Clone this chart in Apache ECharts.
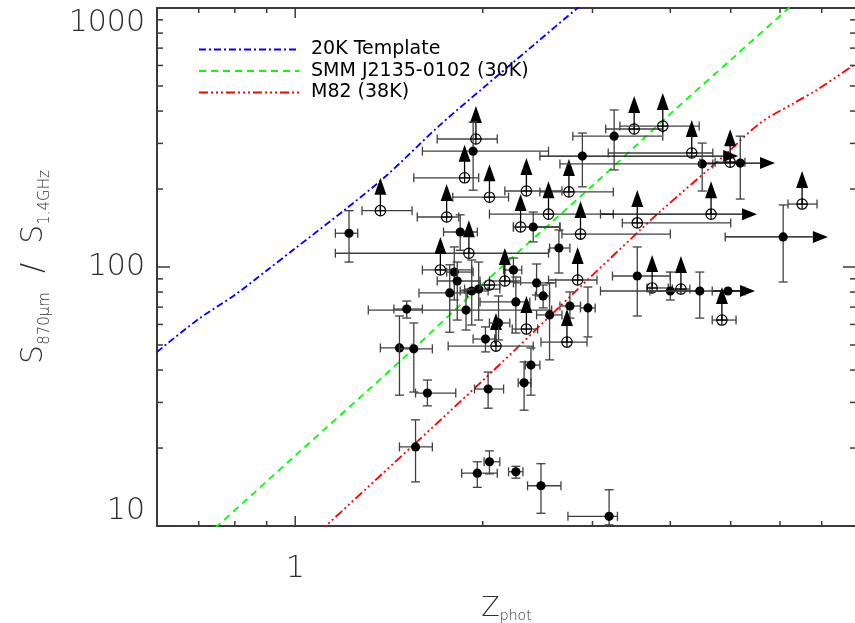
<!DOCTYPE html>
<html><head><meta charset="utf-8">
<script src="https://cdn.jsdelivr.net/npm/echarts@6.0.0/dist/echarts.min.js"></script>
<style>html,body{margin:0;padding:0;background:#fff;}#c{width:855px;height:623px;}</style>
</head><body><div id="c"></div>
<script>
// ---- template curves (z, S870/S1.4) ----
const tpl20kZ = [0.6, 0.7, 0.8, 0.9, 1.0, 1.2, 1.4, 1.7, 2.0, 2.4, 2.84, 3.0];
const tpl20kR = [47, 63, 78, 97, 118, 166, 225, 350, 490, 711, 1000, 1100];
const smmZ = [0.72, 0.75, 1.0, 1.5, 2.0, 3.0, 4.0, 5.0, 6.2, 6.5];
const smmR = [9.2, 10, 18.7, 45, 86, 206, 390, 630, 1000, 1100];
const m82Z = [1.08, 1.12, 2.03, 2.87, 3.58, 3.85, 4.93, 5.57, 6.3, 6.87, 7.86, 7.95];
const m82R = [9.2, 10, 37.7, 84, 139, 163.5, 275, 359, 428, 482, 600, 611];

// ---- sources ----
const zPhot = [1.37,1.22,1.95,1.93,1.87,2.05,1.75,1.84,1.90,1.71,1.80,1.82,1.77,1.92,1.97,1.88,1.51,1.47,1.55,1.63,1.56,2.02,2.10,2.12,2.24,2.17,2.44,2.50,2.26,2.35,2.56,2.76,2.95,2.73,2.39,2.65,2.84,3.54,3.74,4.16,4.00,4.46,4.95,4.84,3.25,2.89,2.35,2.75,2.55,2.30,2.41,2.87,3.54,3.50,3.89,4.33,4.50,4.99,5.18,4.65,6.51,6.07,2.04,2.33,1.96,2.05,2.26,2.48,3.19,2.05];
const ratio = [165,135,312,280,221,186,156,136.5,113,97.4,95.6,88.3,79.4,80.8,82.2,68.2,68.8,48.7,48.3,32.6,20.2,52.7,49.5,60.8,97.4,88.3,86.8,77.3,73.3,57.6,65.3,70.7,69.5,51.3,41.8,118.4,89.1,92.3,83,82.2,80.8,80.8,80.8,62.4,320,268,196.5,195,160,142.7,142.7,134,148,341,350,275.5,250,254,252,160,175,130.6,33.8,35.7,16.0,17.7,16.2,14.3,10.9,85.2];
const zLo = [1.28,1.16,1.69,1.60,1.55,1.79,1.57,1.73,1.16,1.60,1.75,1.69,1.58,1.84,1.87,1.31,1.44,1.37,1.47,1.56,1.47,1.93,1.76,2.05,2.16,2.05,2.24,2.43,1.98,2.23,2.44,2.66,2.87,2.48,2.34,2.56,2.55,3.23,3.67,4.03,3.09,3.71,4.67,4.67,2.79,2.47,2.17,2.47,2.05,2.24,2.24,2.68,3.35,3.15,3.32,3.18,2.66,4.72,4.46,3.09,6.18,4.90,1.94,2.28,1.85,2.01,2.20,2.36,2.74,1.98];
const zHi = [1.54,1.26,2.11,2.55,1.97,2.20,1.83,1.96,2.55,1.92,1.93,1.98,1.89,2.04,2.13,2.58,1.60,1.54,1.66,1.81,1.66,2.09,2.41,2.21,2.31,2.30,2.62,2.56,2.38,2.45,2.68,2.87,3.03,2.94,2.47,2.76,3.05,4.00,3.97,4.30,4.46,5.27,5.47,5.10,3.89,5.14,2.68,3.24,3.24,2.66,2.66,4.00,5.00,3.89,4.45,4.68,4.68,5.27,5.89,5.51,6.88,7.16,2.16,2.39,2.11,2.13,2.32,2.67,3.29,2.13];
const rLo = [null,104.5,null,198,null,null,null,116,null,null,74.6,62.4,56,59.7,62.4,57.1,63.5,32,32.9,29.1,14.8,47,null,52.3,87.5,null,78,69.5,55.6,null,43.8,63.5,53.7,null,32,94.8,null,64.7,null,null,74.6,63.5,null,null,237,204,null,null,null,null,125,null,null,null,null,null,196.5,null,183,null,null,87.5,28.5,28,14.1,15.9,15.3,11.2,10.1,null];
const rHi = [null,165,null,363,null,null,null,159,null,null,119.5,104.5,102,106.4,104.5,81.5,73.9,64.7,60.8,36.6,25.7,58.7,null,77.3,108.3,null,102.7,85.2,91.5,null,86.8,80.1,83.7,null,48.7,139,null,119.5,null,null,95.6,95.6,null,null,404,329,null,null,null,null,163,null,null,null,null,null,301,null,320,null,null,173.6,39.3,43,17.7,19.5,17.0,17.4,13.8,null];
// 'f' = filled circle, 'o' = open circle with cross
const kind = ['o','f','o','f','o','o','o','f','o','o','f','f','f','f','f','f','f','f','f','f','f','f','o','f','f','o','f','f','f','o','f','f','f','o','f','f','o','f','o','o','f','f','f','o','f','f','o','o','o','o','f','o','o','o','o','o','f','o','f','o','o','f','f','f','f','f','f','f','f','o'];
// limit arrows: '' none, 'up' lower limit on ratio, 'right' lower limit on z
const limit = ['up','','up','','up','up','up','','up','up','','','','','','','','','','','','','up','','','up','','','','up','','','','up','','','up','','up','up','','','right','up','','right','up','up','up','up','','up','up','up','up','up','','up','right','upright','up','right','','','','','','','',''];

// ---- axis ticks ----
const xMajorTicks = [1];
const xMinorTicks = [0.7, 0.8, 0.9, 2, 3, 4, 5, 6, 7];
const yMajorTicks = [10, 100, 1000];
const yMinorTicks = [20, 30, 40, 50, 60, 70, 80, 90, 200, 300, 400, 500, 600, 700, 800, 900];

const X_MIN = 0.6, X_MAX = 7.945, Y_MIN = 10, Y_MAX = 1000;
const FONT = 'DejaVu Sans';
const AX = '#3a3a3a';
const TXT = '#2e2e2e';

const tickData = [];
xMajorTicks.forEach(v => tickData.push([v, Y_MIN, 0, 1]));
xMinorTicks.forEach(v => tickData.push([v, Y_MIN, 0, 0]));
yMajorTicks.forEach(v => tickData.push([X_MIN, v, 1, 1]));
yMinorTicks.forEach(v => tickData.push([X_MIN, v, 1, 0]));

function renderTick(params, api) {
  const kindT = api.value(2), major = api.value(3);
  const st = {stroke: AX, lineWidth: 1.5};
  if (kindT === 0) {
    const v = api.value(0);
    const b = api.coord([v, Y_MIN]), t = api.coord([v, Y_MAX]);
    const L = major ? 10 : 5;
    return {type: 'group', children: [
      {type: 'line', shape: {x1: b[0], y1: b[1], x2: b[0], y2: b[1] - L}, style: st},
      {type: 'line', shape: {x1: t[0], y1: t[1], x2: t[0], y2: t[1] + L}, style: st}
    ]};
  } else {
    const v = api.value(1);
    const l = api.coord([X_MIN, v]), r = api.coord([X_MAX, v]);
    const L = major ? 13 : 6;
    return {type: 'group', children: [
      {type: 'line', shape: {x1: l[0], y1: l[1], x2: l[0] + L, y2: l[1]}, style: st},
      {type: 'line', shape: {x1: r[0], y1: r[1], x2: r[0] - L, y2: r[1]}, style: st}
    ]};
  }
}

function renderPoint(params, api) {
  const i = api.value(2);
  const c = api.coord([zPhot[i], ratio[i]]);
  const ch = [];
  const ec = '#404040';
  const cap = 4.5;
  const lim = limit[i];
  const est = {stroke: ec, lineWidth: 1.3};
  const pL = api.coord([zLo[i], ratio[i]]);
  const pR = api.coord([zHi[i], ratio[i]]);
  const right = lim.indexOf('right') >= 0;
  const xEnd = right ? pR[0] - 15 : pR[0];
  ch.push({type: 'line', shape: {x1: pL[0], y1: c[1], x2: xEnd, y2: c[1]}, style: right ? {stroke: '#000', lineWidth: 1.3} : est});
  ch.push({type: 'line', shape: {x1: pL[0], y1: c[1] - cap, x2: pL[0], y2: c[1] + cap}, style: est});
  if (right) {
    ch.push({type: 'polygon', shape: {points: [[pR[0], c[1]], [pR[0] - 15, c[1] - 6], [pR[0] - 15, c[1] + 6]]}, style: {fill: '#000'}});
  } else {
    ch.push({type: 'line', shape: {x1: pR[0], y1: c[1] - cap, x2: pR[0], y2: c[1] + cap}, style: est});
  }
  if (rLo[i] != null && rHi[i] != null) {
    const pB = api.coord([zPhot[i], rLo[i]]);
    const pT = api.coord([zPhot[i], rHi[i]]);
    ch.push({type: 'line', shape: {x1: c[0], y1: pB[1], x2: c[0], y2: pT[1]}, style: est});
    ch.push({type: 'line', shape: {x1: c[0] - cap, y1: pB[1], x2: c[0] + cap, y2: pB[1]}, style: est});
    ch.push({type: 'line', shape: {x1: c[0] - cap, y1: pT[1], x2: c[0] + cap, y2: pT[1]}, style: est});
  }
  if (lim.indexOf('up') >= 0) {
    ch.push({type: 'line', shape: {x1: c[0], y1: c[1], x2: c[0], y2: c[1] - 17}, style: {stroke: '#000', lineWidth: 1.3}});
    ch.push({type: 'polygon', shape: {points: [[c[0], c[1] - 33], [c[0] - 6, c[1] - 16], [c[0] + 6, c[1] - 16]]}, style: {fill: '#000'}});
  }
  if (kind[i] === 'f') {
    ch.push({type: 'circle', shape: {cx: c[0], cy: c[1], r: 4.6}, style: {fill: '#000'}});
  } else {
    const s = {stroke: '#000', lineWidth: 1.2, fill: null};
    ch.push({type: 'circle', shape: {cx: c[0], cy: c[1], r: 5.2}, style: {stroke: '#000', lineWidth: 1.2, fill: 'rgba(0,0,0,0)'}});
    ch.push({type: 'line', shape: {x1: c[0] - 5.2, y1: c[1], x2: c[0] + 5.2, y2: c[1]}, style: s});
    ch.push({type: 'line', shape: {x1: c[0], y1: c[1] - 5.2, x2: c[0], y2: c[1] + 5.2}, style: s});
  }
  return {type: 'group', children: ch};
}

const chart = echarts.init(document.getElementById('c'), null, {renderer: 'canvas'});
chart.setOption({
  animation: false,
  backgroundColor: '#fff',
  grid: {left: 157, top: 8, width: 699, height: 518, show: true, borderColor: AX, borderWidth: 2,
         backgroundColor: 'transparent', containLabel: false, outerBoundsMode: 'none'},
  legend: {
    left: 193, top: 35, orient: 'vertical', itemWidth: 100, itemHeight: 12, itemGap: 2.5,
    itemStyle: {opacity: 0},
    textStyle: {fontFamily: FONT, fontSize: 19, color: '#000', padding: [0, 0, 0, 7]},
    data: ['20K Template', 'SMM J2135-0102 (30K)', 'M82 (38K)']
  },
  xAxis: {
    type: 'log', logBase: 10, min: X_MIN, max: X_MAX,
    axisLine: {show: false}, axisTick: {show: false}, splitLine: {show: false},
    axisLabel: {margin: 28, fontFamily: FONT, fontSize: 30, fontWeight: 200, color: TXT,
      formatter: v => (Math.abs(v - 1) < 1e-6 ? '1' : '')},
    name: '{s|Z}{sub|phot}', nameLocation: 'middle', nameGap: 69,
    nameTextStyle: {rich: {
      s: {fontFamily: FONT, fontSize: 27, fontWeight: 200, color: TXT, padding: [0, 0, 1, 0]},
      sub: {fontFamily: FONT, fontSize: 14, fontWeight: 200, color: TXT, verticalAlign: 'bottom'}
    }}
  },
  yAxis: {
    type: 'log', logBase: 10, min: Y_MIN, max: Y_MAX,
    axisLine: {show: false}, axisTick: {show: false}, splitLine: {show: false},
    axisLabel: {margin: 12, fontFamily: FONT, fontSize: 30, fontWeight: 200, color: TXT,
      formatter: v => String(Math.round(v)),
      verticalAlignMinLabel: 'bottom', verticalAlignMaxLabel: 'top'},
    name: '{s|S}{sub|870μm}{s|  /  S}{sub|1.4GHz}', nameLocation: 'middle', nameGap: 104,
    nameTextStyle: {rich: {
      s: {fontFamily: FONT, fontSize: 30, fontWeight: 200, color: TXT, padding: [0, 0, 4, 0]},
      sub: {fontFamily: FONT, fontSize: 15, fontWeight: 200, color: TXT, verticalAlign: 'bottom'}
    }}
  },
  series: [
    {type: 'line', name: '20K Template', data: tpl20kZ.map((z, i) => [z, tpl20kR[i]]),
     symbol: 'none', smooth: 0.3, clip: true, color: '#0000ff',
     lineStyle: {color: '#0000ff', width: 1.8, type: [7, 3, 2, 3]}},
    {type: 'line', name: 'SMM J2135-0102 (30K)', data: smmZ.map((z, i) => [z, smmR[i]]),
     symbol: 'none', smooth: 0.3, clip: true, color: '#00ff00',
     lineStyle: {color: '#00ff00', width: 1.8, type: [7, 5]}},
    {type: 'line', name: 'M82 (38K)', data: m82Z.map((z, i) => [z, m82R[i]]),
     symbol: 'none', smooth: 0.3, clip: true, color: '#ff0000',
     lineStyle: {color: '#ff0000', width: 1.8, type: [9, 3, 2, 3, 2, 3, 2, 3]}},
    {type: 'custom', name: 'points', renderItem: renderPoint, silent: true, z: 5,
     encode: {x: 0, y: 1},
     data: zPhot.map((z, i) => [z, ratio[i], i])},
    {type: 'custom', name: 'ticks', renderItem: renderTick, silent: true, z: 6,
     encode: {x: 0, y: 1}, data: tickData}
  ]
});
</script>
</body></html>
